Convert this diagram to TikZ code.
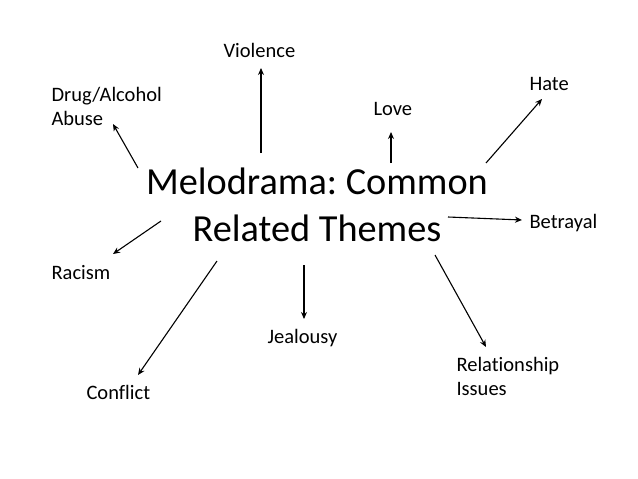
\documentclass[tikz,border=0pt]{standalone}
\usepackage{fontspec}
\setmainfont{Carlito}[Ligatures=NoCommon]
\frenchspacing
\usetikzlibrary{arrows.meta, positioning}

\begin{document}
\begin{tikzpicture} [x=1pt,y=-1pt,line width=1.1pt,>={Stealth[length=7pt,width=6pt]},
    theme/.style={font=\fontsize{20.5}{24}\selectfont,inner sep=0pt,anchor=base west,align=left},
    title/.style={font=\fontsize{38.3}{47}\selectfont,inner sep=0pt,align=center}]
   \useasboundingbox (0,0) rectangle (638,479);

   % the slide title (base = last line)
   \node[title,anchor=base] (melo) at (317,241) {Melodrama: Common\\Related Themes};

   % the themes round it
   \node[theme] (violence) at (223,57) {Violence};
   \node[theme] (drug) at (51,125) {Drug/Alcohol\\Abuse};
   \node[theme] (love) at (373,115) {Love};
   \node[theme] (hate) at (529,90) {Hate};
   \node[theme] (betrayal) at (529,228) {Betrayal};
   \node[theme] (racism) at (51,279) {Racism};
   \node[theme] (jealousy) at (267,343) {Jealousy};
   \node[theme] (relation) at (456,395) {Relationship\\Issues};
   \node[theme] (conflict) at (86,399) {Conflict};

   % arrow ends
   \coordinate (v0) at (261,153); \coordinate (v1) at (261,68);
   \coordinate (d0) at (138,168); \coordinate (d1) at (113,124);
   \coordinate (l0) at (391,163); \coordinate (l1) at (391,132);
   \coordinate (h0) at (486,163); \coordinate (h1) at (542,99);
   \coordinate (b0) at (448,217); \coordinate (b1) at (522,220);
   \coordinate (r0) at (161,221); \coordinate (r1) at (113,254);
   \coordinate (c0) at (217,261); \coordinate (c1) at (138,375);
   \coordinate (j0) at (304,265); \coordinate (j1) at (304,319);
   \coordinate (i0) at (435,255); \coordinate (i1) at (486,347);

   \path[->]
    (v0) edge (v1)
    (d0) edge (d1)
    (l0) edge (l1)
    (h0) edge (h1)
    (b0) edge (b1)
    (r0) edge (r1)
    (c0) edge (c1)
    (j0) edge (j1)
    (i0) edge (i1);

\end{tikzpicture}
\end{document}
